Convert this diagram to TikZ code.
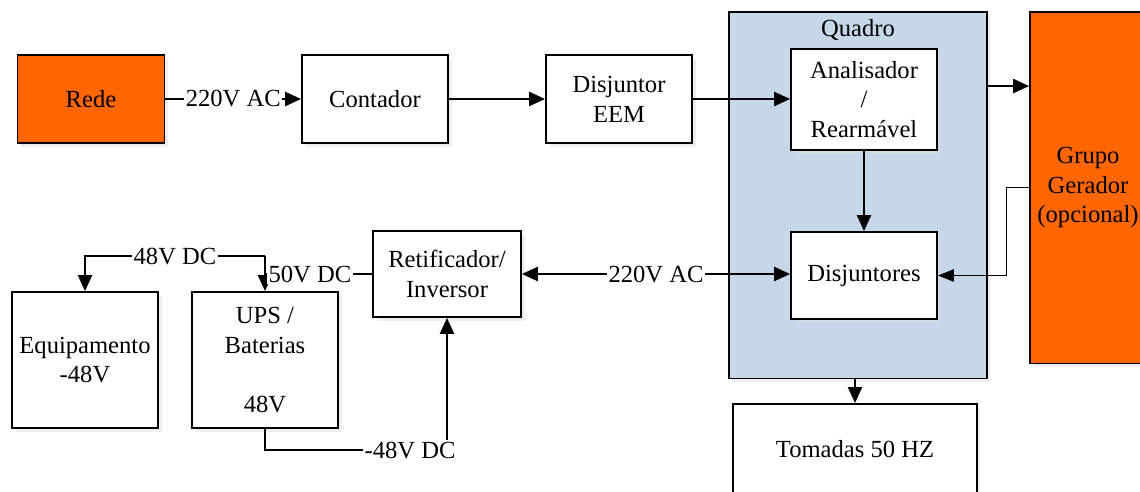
\documentclass[tikz,border=0pt]{standalone}
\usepackage{fontspec}
\setmainfont{Liberation Serif}
\newfontfamily\timesfont{Liberation Serif}
\usepackage{tikz}
\usetikzlibrary{positioning,arrows.meta,shadows}
\definecolor{redeorange}{RGB}{255, 102, 0}
\definecolor{quadroblue}{RGB}{197, 215, 232}

\begin{document}
\begin{tikzpicture}[x=0.02cm, y=-0.02cm, font=\timesfont\fontsize{14}{17}\selectfont,
  box/.style={draw, line width=1.1pt, fill=white, align=center, inner sep=1pt,
    drop shadow={shadow xshift=2pt, shadow yshift=-2pt, fill=black!12}},
  orangebox/.style={box, fill=redeorange},
  arr/.style={line width=1.1pt, -{Triangle[length=9pt, width=8pt]}},
  arrboth/.style={line width=1.1pt, {Triangle[length=9pt, width=8pt]}-{Triangle[length=9pt, width=8pt]}},
  thinarr/.style={line width=0.6pt, -{Triangle[length=9pt, width=7pt]}},
  lbl/.style={fill=white, inner sep=1pt}]
\useasboundingbox (0,0) rectangle (1140,491);
\clip (0,0) rectangle (1140,491);

% top row
\node[orangebox, minimum width=2.94cm, minimum height=1.76cm] (rede) at (91,99) {Rede};
\node[box, minimum width=2.92cm, minimum height=1.76cm] (contador) at (375,99) {Contador};
\node[box, minimum width=2.92cm, minimum height=1.76cm] (eem) at (619,99) {Disjuntor\\EEM};

% quadro
\node[box, fill=quadroblue, minimum width=5.16cm, minimum height=7.34cm,
  label={[anchor=center, yshift=-0.38cm]north:Quadro}] (quadro) at (858,195) {};
\node[box, minimum width=2.92cm, minimum height=2.02cm] (analisador) at (864,99.5) {Analisador\\/\\Rearmável};
\node[box, minimum width=2.92cm, minimum height=1.74cm] (disjuntores) at (864,275.5) {Disjuntores};
\node[orangebox, minimum width=2.32cm, minimum height=7.04cm] (grupo) at (1088,187.5) {Grupo\\Gerador\\(opcional)};
\node[box, minimum width=4.88cm, minimum height=1.8cm] (tomadas) at (855,449) {Tomadas 50 HZ};

% bottom row
\node[box, minimum width=2.96cm, minimum height=1.72cm] (retif) at (447,274) {Retificador/\\Inversor};
\node[box, minimum width=2.92cm, minimum height=2.72cm] (ups) at (265,360) {UPS /\\Baterias\\ \\48V};
\node[box, minimum width=2.92cm, minimum height=2.72cm] (equip) at (85,360) {Equipamento\\-48V};

% connectors
\draw[arr] (rede) -- node[lbl]{220V AC} (contador);
\draw[arr] (contador) -- (eem);
\draw[arr] (eem) -- (analisador.west |- eem);
\draw[arr] (analisador) -- (disjuntores);
\path ([yshift=-1.51cm]quadro.north east) coordinate (qout);
\draw[arr] (qout) -- (qout -| grupo.west);
\draw[thinarr] (grupo.west) -- ++(-23,0) |- (disjuntores.east);
\draw[arr] (quadro.south -| tomadas.north) -- (tomadas.north);
\draw[arrboth] (retif.east) -- node[lbl]{220V AC} (retif.east -| disjuntores.west);

\path ([yshift=0.7cm]ups.north) coordinate (split);
\draw[arr] (split) -- (ups.north);
\draw[arr] (split) -| node[lbl, pos=0.25]{48V DC} (equip.north);
\draw[line width=1.1pt] (retif.west) -- node[lbl, pos=0.58]{50V DC} (retif.west -| split);
\draw[arr] (ups.south) -- ++(0,21.5) -| node[lbl, pos=0.5, xshift=-0.74cm]{-48V DC} (retif.south);
\end{tikzpicture}
\end{document}
